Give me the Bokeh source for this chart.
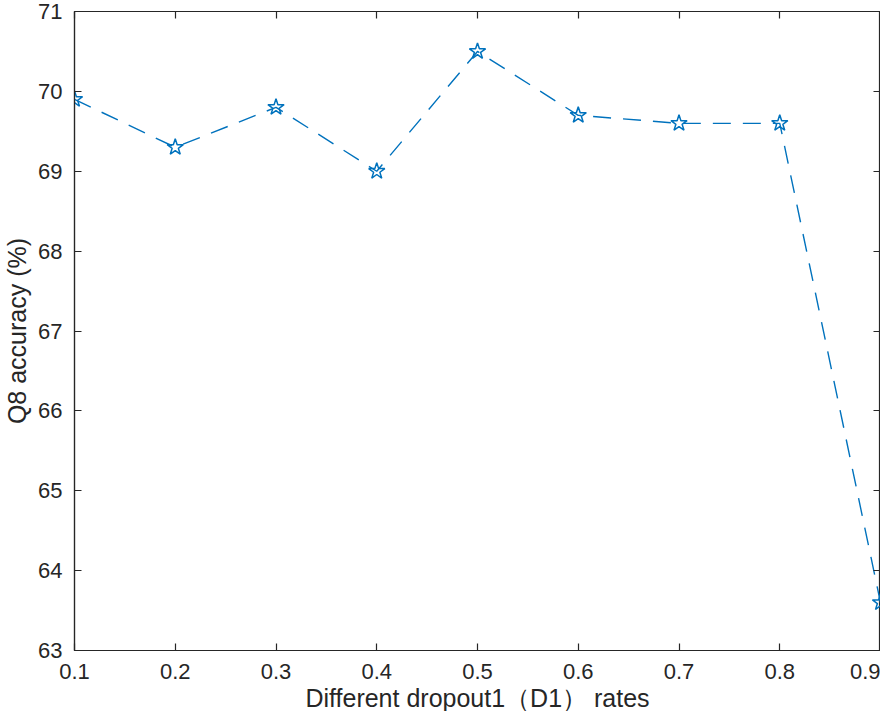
from bokeh.plotting import figure
from bokeh.models import LinearAxis, Range1d, FixedTicker, Title
from bokeh.embed import file_html
from bokeh.resources import INLINE

rates = [0.1, 0.2, 0.3, 0.4, 0.5, 0.6, 0.7, 0.8, 0.9]
accuracy = [69.9, 69.3, 69.8, 69.0, 70.5, 69.7, 69.6, 69.6, 63.6]
x_ticks = [0.1, 0.2, 0.3, 0.4, 0.5, 0.6, 0.7, 0.8, 0.9]
y_ticks = [63, 64, 65, 66, 67, 68, 69, 70, 71]
x_title = "Different dropout1（D1） rates"
y_title = "Q8 accuracy (%)"

FONT = "Liberation Sans"
AX = "#262626"
BLUE = "#0072BD"

p = figure(width=880, height=711, output_backend="svg", toolbar_location=None,
           x_range=Range1d(x_ticks[0], x_ticks[-1]), y_range=Range1d(y_ticks[0], y_ticks[-1]),
           min_border_top=11, min_border_right=0, min_border_left=0, min_border_bottom=60,
           y_axis_label=y_title)
p.grid.visible = False
p.outline_line_color = AX
p.outline_line_width = 1.2
p.background_fill_color = "white"
p.border_fill_color = "white"

for ax in (p.xaxis[0], p.yaxis[0]):
    ax.major_tick_in = 7
    ax.major_tick_out = 0
    ax.minor_tick_in = 0
    ax.minor_tick_out = 0
    ax.axis_line_color = AX
    ax.axis_line_width = 1.2
    ax.major_tick_line_color = AX
    ax.major_tick_line_width = 1.2
    ax.major_label_text_font = FONT
    ax.major_label_text_font_size = "22px"
    ax.major_label_text_color = AX
    ax.axis_label_text_font = FONT
    ax.axis_label_text_font_size = "25px"
    ax.axis_label_text_font_style = "normal"
    ax.axis_label_text_color = AX

p.xaxis[0].ticker = FixedTicker(ticks=x_ticks)
p.yaxis[0].ticker = FixedTicker(ticks=y_ticks)
p.xaxis[0].major_label_standoff = 13
p.yaxis[0].major_label_standoff = 12
p.yaxis[0].axis_label_standoff = 4


def frame_ticks(ticks):
    return LinearAxis(ticker=FixedTicker(ticks=ticks), major_tick_in=7, major_tick_out=0,
                      minor_tick_in=0, minor_tick_out=0,
                      major_label_overrides={t: "" for t in ticks},
                      major_label_text_font_size="0px", major_label_standoff=0,
                      axis_line_color=AX, major_tick_line_color=AX,
                      major_tick_line_width=1.2)


p.add_layout(frame_ticks(x_ticks), "above")
p.add_layout(frame_ticks(y_ticks), "right")

p.add_layout(Title(text=x_title, align="center", standoff=0, offset=0,
                   text_font=FONT, text_font_size="25px", text_font_style="normal",
                   text_color=AX), "below")

p.line(rates, accuracy, line_color=BLUE, line_width=1.4, line_dash="18 12")
p.scatter(rates, accuracy, marker="star", size=17, fill_color=None,
          line_color=BLUE, line_width=1.5)

open("out.html", "w").write(file_html(p, INLINE))
